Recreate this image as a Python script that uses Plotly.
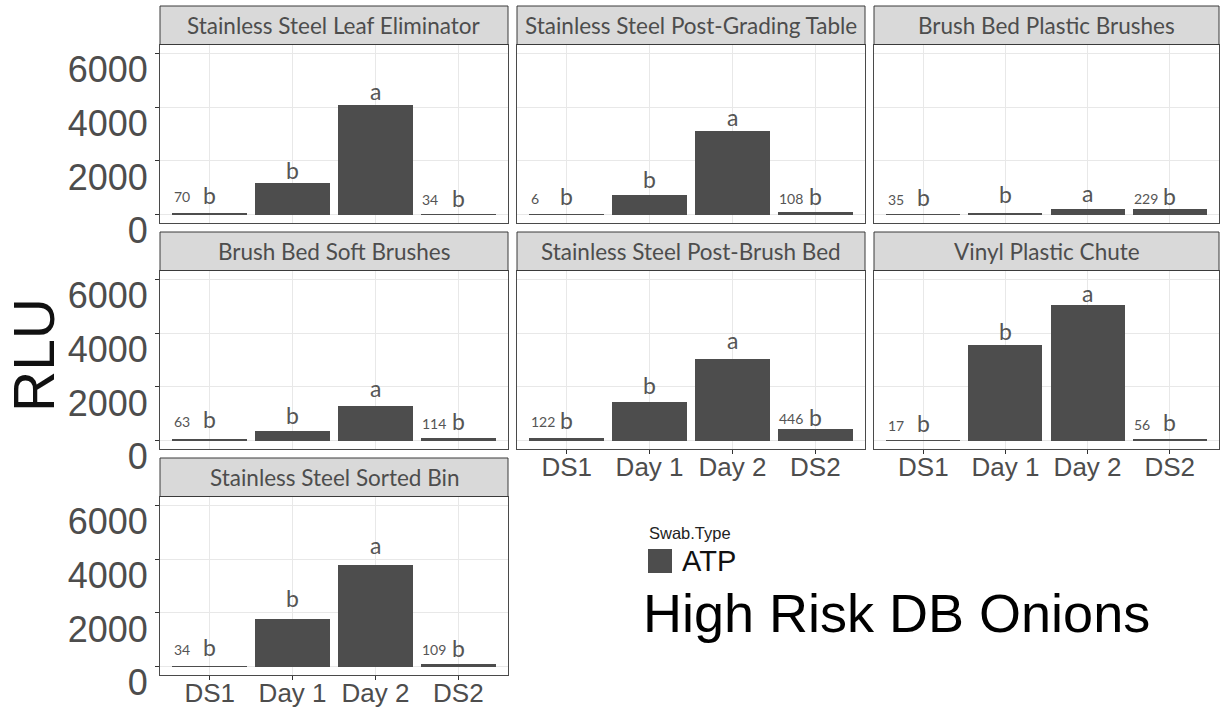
import plotly.graph_objects as go

W, H = 1225, 710

# ---- data -------------------------------------------------------------
days = ["DS1", "Day 1", "Day 2", "DS2"]
surfaces = [
    "Stainless Steel Leaf Eliminator",
    "Stainless Steel Post-Grading Table",
    "Brush Bed Plastic Brushes",
    "Brush Bed Soft Brushes",
    "Stainless Steel Post-Brush Bed",
    "Vinyl Plastic Chute",
    "Stainless Steel Sorted Bin",
]

rlu_leaf_eliminator = [70, 1180, 4100, 34]
rlu_post_grading = [6, 750, 3125, 108]
rlu_plastic_brushes = [35, 40, 225, 229]
rlu_soft_brushes = [63, 366, 1293, 114]
rlu_post_brush_bed = [122, 1470, 3065, 446]
rlu_vinyl_chute = [17, 3580, 5090, 56]
rlu_sorted_bin = [34, 1811, 3825, 109]

# significance groups
groups_leaf_eliminator = ["b", "b", "a", "b"]
groups_post_grading = ["b", "b", "a", "b"]
groups_plastic_brushes = ["b", "b", "a", "b"]
groups_soft_brushes = ["b", "b", "a", "b"]
groups_post_brush_bed = ["b", "b", "a", "b"]
groups_vinyl_chute = ["b", "b", "a", "b"]
groups_sorted_bin = ["b", "b", "a", "b"]

# heights at which the group letters sit
letter_y_leaf_eliminator = [740, 1667, 4630, 630]
letter_y_post_grading = [675, 1312, 3637, 675]
letter_y_plastic_brushes = [636, 748, 785, 673]
letter_y_soft_brushes = [792, 943, 1972, 716]
letter_y_post_brush_bed = [780, 2062, 3770, 878]
letter_y_vinyl_chute = [652, 4083, 5493, 690]
letter_y_sorted_bin = [724, 2576, 4537, 701]

y_ticks = [0, 2000, 4000, 6000]

values = [rlu_leaf_eliminator, rlu_post_grading, rlu_plastic_brushes,
          rlu_soft_brushes, rlu_post_brush_bed, rlu_vinyl_chute, rlu_sorted_bin]
groups = [groups_leaf_eliminator, groups_post_grading, groups_plastic_brushes,
          groups_soft_brushes, groups_post_brush_bed, groups_vinyl_chute, groups_sorted_bin]
letter_y = [letter_y_leaf_eliminator, letter_y_post_grading, letter_y_plastic_brushes,
            letter_y_soft_brushes, letter_y_post_brush_bed, letter_y_vinyl_chute,
            letter_y_sorted_bin]

# ---- layout geometry (pixels) -------------------------------------------
cols = [(160, 508), (517, 865), (874, 1219)]
rows = [(6, 44.5, 222.5), (232, 270.5, 448.5), (458, 496.5, 674.5)]  # strip top, panel top, panel bottom

BAR = "#4d4d4d"
TXT = "#4d4d4d"
GRID = "#e8e8e8"
FRAME = "#4a4a4a"
STRIP_FONT = "Lato"
SANS = "Liberation Sans"


def fx(p):
    return p / W


def fy(p):
    return 1 - p / H


fig = go.Figure()
shapes, annotations = [], []
xs = [1, 2, 3, 4]

for k, name in enumerate(surfaces):
    r, c = divmod(k, 3)
    left, right = cols[c]
    s_top, p_top, p_bot = rows[r]
    ax = "" if k == 0 else str(k + 1)
    xa, ya = "xaxis" + ax, "yaxis" + ax
    xr, yr = "x" + ax, "y" + ax

    fig.add_trace(go.Bar(
        x=xs, y=values[k], width=0.9, marker=dict(color=BAR, line=dict(width=0)),
        xaxis=xr, yaxis=yr, showlegend=False, name="ATP",
    ))

    bottom_of_column = k >= 4
    first_column = c == 0

    fig.layout[xa] = dict(
        domain=[fx(left), fx(right)], anchor=yr, range=[0.4, 4.6], automargin=False,
        tickvals=xs, ticktext=days, showticklabels=bottom_of_column,
        ticks="outside" if bottom_of_column else "", ticklen=4, tickcolor="#333",
        tickfont=dict(family=SANS, size=26, color=TXT),
        ticklabelstandoff=-9,
        showgrid=True, gridcolor=GRID, gridwidth=1, zeroline=False,
        showline=True, mirror=True, linecolor=FRAME, linewidth=1,
        fixedrange=True,
    )
    fig.layout[ya] = dict(
        domain=[fy(p_bot), fy(p_top)], anchor=xr, range=[-300, 6350], automargin=False,
        tickvals=y_ticks, showticklabels=first_column,
        ticks="outside" if first_column else "", ticklen=4, tickcolor="#333",
        tickfont=dict(family=SANS, size=36, color=TXT),
        ticklabelshift=16,
        showgrid=True, gridcolor=GRID, gridwidth=1, zeroline=False,
        showline=True, mirror=True, linecolor=FRAME, linewidth=1,
        fixedrange=True,
    )

    # facet strip
    shapes.append(dict(type="rect", xref="paper", yref="paper",
                       x0=fx(left), x1=fx(right), y0=fy(p_top), y1=fy(s_top),
                       fillcolor="#d9d9d9", line=dict(color="#3a3a3a", width=1)))
    annotations.append(dict(xref="paper", yref="paper", x=fx((left + right) / 2),
                            y=fy((s_top + p_top) / 2), text=name, showarrow=False,
                            xanchor="center", yanchor="middle",
                            font=dict(family=STRIP_FONT, size=22.5, color=TXT)))

    # group letters and DS value labels
    for i, day in enumerate(days):
        annotations.append(dict(xref=xr, yref=yr, x=xs[i], y=letter_y[k][i],
                                text=groups[k][i], showarrow=False,
                                xanchor="center", yanchor="middle",
                                font=dict(family=STRIP_FONT, size=23, color="#555555")))
        if day.startswith("DS"):
            annotations.append(dict(xref=xr, yref=yr, x=xs[i] - 0.46, y=letter_y[k][i],
                                    yshift=-2, text=str(values[k][i]), showarrow=False,
                                    xanchor="left", yanchor="middle",
                                    font=dict(family=STRIP_FONT, size=14, color="#555555")))

# y-axis title
annotations.append(dict(xref="paper", yref="paper", x=fx(34), y=fy(355), text="RLU",
                        textangle=-90, showarrow=False, xanchor="center", yanchor="middle",
                        font=dict(family=SANS, size=57, color="#111111")))

# legend key
annotations.append(dict(xref="paper", yref="paper", x=fx(647), y=fy(533), text="Swab.Type",
                        showarrow=False, xanchor="left", yanchor="middle",
                        font=dict(family=SANS, size=16.5, color="#222222")))
shapes.append(dict(type="rect", xref="paper", yref="paper",
                   x0=fx(648), x1=fx(672), y0=fy(573), y1=fy(549),
                   fillcolor=BAR, line=dict(width=0)))
annotations.append(dict(xref="paper", yref="paper", x=fx(680), y=fy(561), text="ATP",
                        showarrow=False, xanchor="left", yanchor="middle",
                        font=dict(family=SANS, size=29, color="#111111")))

# chart title
annotations.append(dict(xref="paper", yref="paper", x=fx(641), y=fy(613),
                        text="High Risk DB Onions", showarrow=False,
                        xanchor="left", yanchor="middle",
                        font=dict(family=SANS, size=54, color="#000000")))

fig.update_layout(
    width=W, height=H, margin=dict(l=0, r=0, t=0, b=0, autoexpand=False),
    paper_bgcolor="white", plot_bgcolor="white",
    shapes=shapes, annotations=annotations, showlegend=False,
    bargap=0,
)

fig.write_html("out.html")
